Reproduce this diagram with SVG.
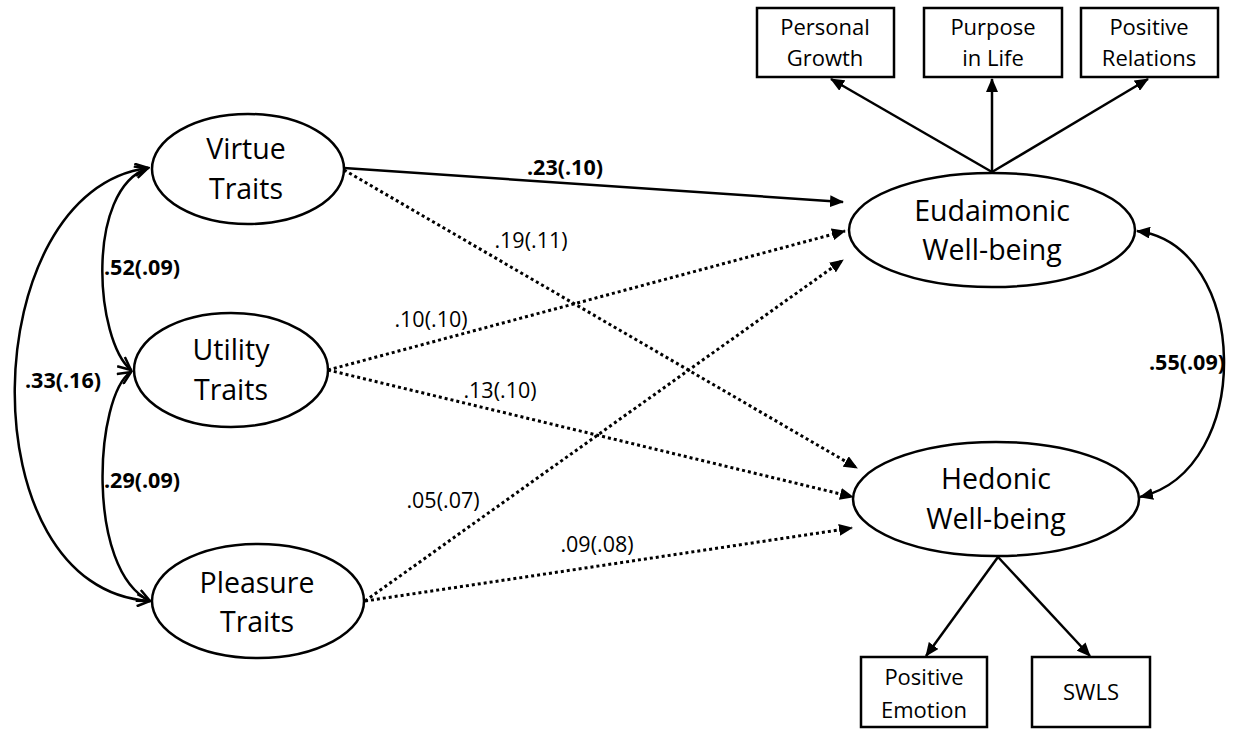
<svg xmlns="http://www.w3.org/2000/svg" width="1238" height="730" viewBox="0 0 1238 730">
<style>
.node{fill:#fff;stroke:#000;stroke-width:2.5}
.nt{font-family:"Open Sans","Liberation Sans",sans-serif;font-size:28.5px;fill:#000;text-anchor:middle}
.bt{font-family:"Open Sans","Liberation Sans",sans-serif;font-size:22px;fill:#000;text-anchor:middle}
.lb{font-family:"Open Sans","Liberation Sans",sans-serif;font-size:21.5px;fill:#000;text-anchor:middle}
.b{font-weight:bold}
.c{fill:none;stroke:#000;stroke-width:2.5}
.d{stroke-width:3;stroke-dasharray:3 3}
</style>
<defs>
<marker id="ah" markerUnits="userSpaceOnUse" markerWidth="14" markerHeight="12" refX="13" refY="6" orient="auto-start-reverse" viewBox="0 0 14 12">
<path d="M0,0 L14,6 L0,12 z" fill="#000"/>
</marker>
<marker id="av" markerUnits="userSpaceOnUse" markerWidth="16" markerHeight="14" refX="14" refY="7" orient="auto-start-reverse" viewBox="0 0 16 14">
<path d="M1,1 L14,7 L1,13" fill="none" stroke="#000" stroke-width="2.5"/>
</marker>
</defs>
<g id="connectors">
<path class="c" d="M344 168 L843 202" marker-end="url(#ah)"/>
<path class="c d" d="M344 170 L857 468" marker-end="url(#ah)"/>
<path class="c d" d="M328 370 L845 231" marker-end="url(#ah)"/>
<path class="c d" d="M328 370 L853 497" marker-end="url(#ah)"/>
<path class="c d" d="M365 601 L843 260" marker-end="url(#ah)"/>
<path class="c d" d="M365 601 L852 528" marker-end="url(#ah)"/>
<path class="c" d="M131 370 C95 340,85 190,148 168" marker-start="url(#av)" marker-end="url(#av)"/>
<path class="c" d="M131 372 C95 395,85 570,150 601" marker-start="url(#av)" marker-end="url(#av)"/>
<path class="c" d="M148 168 C-25 190,-35 590,150 601" marker-start="url(#av)" marker-end="url(#av)"/>
<path class="c" d="M1137 231 C1250 245,1255 470,1140 497" marker-start="url(#ah)" marker-end="url(#ah)"/>
<path class="c" d="M992 172 L831 79" marker-end="url(#ah)"/>
<path class="c" d="M992 172 L992 79" marker-end="url(#ah)"/>
<path class="c" d="M992 172 L1148 79" marker-end="url(#ah)"/>
<path class="c" d="M998 557 L926 656" marker-end="url(#ah)"/>
<path class="c" d="M998 557 L1090 656" marker-end="url(#ah)"/>
</g>
<g id="labels">
<text class="lb b" x="565" y="175">.23(.10)</text>
<text class="lb" x="531" y="248">.19(.11)</text>
<text class="lb" x="431" y="327">.10(.10)</text>
<text class="lb" x="500" y="398">.13(.10)</text>
<text class="lb" x="443" y="508">.05(.07)</text>
<text class="lb" x="597" y="552">.09(.08)</text>
<text class="lb b" x="142" y="275">.52(.09)</text>
<text class="lb b" x="63" y="388">.33(.16)</text>
<text class="lb b" x="142" y="488">.29(.09)</text>
<text class="lb b" x="1187" y="370">.55(.09)</text>
</g>
<g id="virtue">
<ellipse class="node" cx="248" cy="169" rx="96" ry="55"/>
<text class="nt" x="246" y="159">Virtue</text>
<text class="nt" x="246" y="199">Traits</text>
</g>
<g id="utility">
<ellipse class="node" cx="231" cy="370" rx="97" ry="57"/>
<text class="nt" x="231" y="360">Utility</text>
<text class="nt" x="231" y="400">Traits</text>
</g>
<g id="pleasure">
<ellipse class="node" cx="258" cy="601" rx="106" ry="57"/>
<text class="nt" x="257" y="593">Pleasure</text>
<text class="nt" x="257" y="632">Traits</text>
</g>
<g id="eudaimonic">
<ellipse class="node" cx="992" cy="230" rx="143" ry="57"/>
<text class="nt" x="992" y="221">Eudaimonic</text>
<text class="nt" x="992" y="260">Well-being</text>
</g>
<g id="hedonic">
<ellipse class="node" cx="996" cy="499" rx="143" ry="57"/>
<text class="nt" x="996" y="489">Hedonic</text>
<text class="nt" x="996" y="529">Well-being</text>
</g>
<g id="personal-growth">
<rect class="node" x="757" y="8" width="137" height="69"/>
<text class="bt" x="825" y="35">Personal</text>
<text class="bt" x="825" y="66">Growth</text>
</g>
<g id="purpose-in-life">
<rect class="node" x="924" y="8" width="138" height="69"/>
<text class="bt" x="993" y="35">Purpose</text>
<text class="bt" x="993" y="66">in Life</text>
</g>
<g id="positive-relations">
<rect class="node" x="1081" y="8" width="137" height="69"/>
<text class="bt" x="1149" y="35">Positive</text>
<text class="bt" x="1149" y="66">Relations</text>
</g>
<g id="positive-emotion">
<rect class="node" x="861" y="657" width="126" height="70"/>
<text class="bt" x="924" y="685">Positive</text>
<text class="bt" x="924" y="718">Emotion</text>
</g>
<g id="swls">
<rect class="node" x="1032" y="657" width="118" height="70"/>
<text class="bt" x="1091" y="700">SWLS</text>
</g>
</svg>
